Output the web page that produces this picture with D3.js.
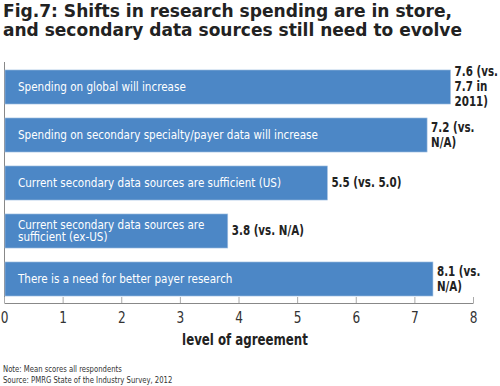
<!DOCTYPE html>
<html lang="en">
<head>
<meta charset="UTF-8">
<title>Fig.7 research spending</title>
<script src="https://d3js.org/d3.v7.min.js"></script>
<style>
  body { margin: 0; background: #fff; }
  svg { display: block; font-family: "DejaVu Sans Condensed", "DejaVu Sans", sans-serif; }
</style>
</head>
<body>
<div id="chart"></div>
<script>
// chart data
var categories = [
  "Spending on global will increase",
  "Spending on secondary specialty/payer data will increase",
  "Current secondary data sources are sufficient (US)",
  "Current secondary data sources are\nsufficient (ex-US)",
  "There is a need for better payer research"
];
// bar lengths as drawn in the original figure
var barValues = [7.6, 7.2, 5.5, 3.8, 7.3];
var valueLabels = [
  "7.6 (vs.\n7.7 in\n2011)",
  "7.2 (vs.\nN/A)",
  "5.5 (vs. 5.0)",
  "3.8 (vs. N/A)",
  "8.1 (vs.\nN/A)"
];
var xTicks = [0, 1, 2, 3, 4, 5, 6, 7, 8];
var titleLines = ["Fig.7: Shifts in research spending are in store,",
                  "and secondary data sources still need to evolve"];
var notes = ["Note: Mean scores all respondents",
             "Source: PMRG State of the Industry Survey, 2012"];

var w = 500, h = 386;
var m = {left: 4, right: 27, top: 63, bottom: 83};

var svg = d3.select('#chart').append('svg')
  .attr('width', w).attr('height', h);

// squeeze text horizontally, the original uses a condensed face
function place(t, px, py, sx){
  t.attr('transform', 'translate(' + px + ',' + py + ') scale(' + sx + ',1)');
  return t;
}

// title
svg.append('g').selectAll('text')
  .data(titleLines).enter().append('text')
  .attr('x', 3)
  .attr('y', function(d, i){ return 17 + i * 19; })
  .attr('font-size', '18.5px')
  .attr('font-weight', 'bold')
  .attr('fill', '#222')
  .attr('textLength', function(d, i){ return i ? 459 : 449; })
  .attr('lengthAdjust', 'spacingAndGlyphs')
  .text(function(d){ return d; });

var x = d3.scaleLinear().domain([0, 8]).range([m.left, w - m.right]);
var y = d3.scaleBand().domain(d3.range(categories.length))
  .range([m.top, h - m.bottom]).paddingInner(0.29).paddingOuter(0.145);

// left axis line
svg.append('line')
  .attr('x1', x(0) + 0.5).attr('x2', x(0) + 0.5)
  .attr('y1', m.top - 1).attr('y2', h - m.bottom)
  .attr('stroke', '#888').attr('stroke-width', 1);

// bars
svg.append('g').selectAll('rect')
  .data(barValues).enter().append('rect')
  .attr('x', x(0) + 1)
  .attr('y', function(d, i){ return y(i); })
  .attr('width', function(d){ return x(d) - x(0); })
  .attr('height', y.bandwidth())
  .attr('fill', '#4c87c6')
  .attr('stroke', '#a9c4e3')
  .attr('stroke-width', 0.6);

// category text inside bars
categories.forEach(function(c, i){
  var lines = c.split('\n');
  var cy = y(i) + y.bandwidth() / 2;
  var t = svg.append('text')
    .attr('font-size', '13px')
    .attr('fill', '#fff')
    .attr('dominant-baseline', 'central');
  place(t, 18, cy - (lines.length - 1) * 6, 0.89);
  lines.forEach(function(l, j){
    t.append('tspan').attr('x', 0).attr('dy', j ? 12 : 0).text(l);
  });
});

// value labels
valueLabels.forEach(function(v, i){
  var lines = v.split('\n');
  var cy = y(i) + y.bandwidth() / 2;
  var t = svg.append('text')
    .attr('font-size', '14px')
    .attr('font-weight', 'bold')
    .attr('fill', '#222')
    .attr('dominant-baseline', 'central');
  place(t, x(barValues[i]) + 5, cy - (lines.length - 1) * 7.5 - 1, 0.82);
  lines.forEach(function(l, j){
    t.append('tspan').attr('x', 0).attr('dy', j ? 15 : 0).text(l);
  });
});

// x axis
var xAxis = d3.axisBottom(x).tickValues(xTicks).tickSize(-6).tickPadding(9).tickFormat(d3.format('d'));
var gx = svg.append('g')
  .attr('transform', 'translate(0,' + (h - m.bottom) + ')')
  .call(xAxis);
gx.select('.domain').attr('stroke', '#888').attr('d', 'M' + (x(0) + 0.5) + ',0.5H' + (x(8) + 0.5));
gx.selectAll('.tick line').attr('stroke', '#aaa');
gx.selectAll('.tick text')
  .attr('font-size', '15px')
  .attr('fill', '#333')
  .attr('font-family', '"DejaVu Sans Condensed", sans-serif')
  .attr('transform', 'scale(0.9,1)');

var xl = svg.append('text')
  .attr('text-anchor', 'middle')
  .attr('font-size', '16px')
  .attr('font-weight', 'bold')
  .attr('fill', '#222')
  .text('level of agreement');
place(xl, 245, 345, 0.82);

notes.forEach(function(n, i){
  var t = svg.append('text')
    .attr('font-size', '8.5px')
    .attr('fill', '#333')
    .text(n);
  place(t, 3, 372 + i * 11, 0.9);
});
</script>
</body>
</html>
